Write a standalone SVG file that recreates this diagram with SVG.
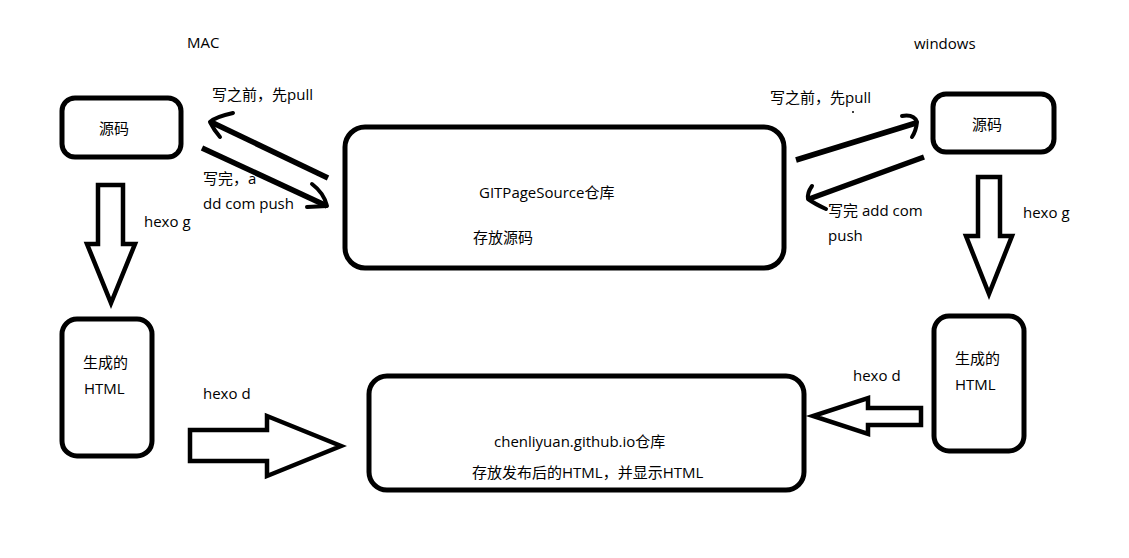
<svg xmlns="http://www.w3.org/2000/svg" width="1129" height="558" viewBox="0 0 1129 558">
<style>
.box{fill:#fff;stroke:#000;stroke-width:5}
.ha{fill:#fff;stroke:#000;stroke-width:4.5;stroke-linejoin:miter}
.ln{fill:none;stroke:#000;stroke-width:5.5;stroke-linecap:butt;stroke-linejoin:round}
.hd{fill:none;stroke:#000;stroke-width:4;stroke-linecap:round;stroke-linejoin:round}
text{font-family:"Open Sans","Noto Sans CJK SC",sans-serif;font-size:15px;fill:#000}
</style>
<rect width="1129" height="558" fill="#fff"/>
<text x="187" y="48">MAC</text>
<text x="914" y="49">windows</text>
<g id="mac-src">
<rect class="box" x="62" y="98" width="119" height="59" rx="13"/>
<text x="114" y="134" text-anchor="middle">源码</text>
</g>
<g id="mac-html">
<rect class="box" x="62" y="319" width="90" height="137" rx="15"/>
<text x="83" y="368">生成的</text>
<text x="84" y="394">HTML</text>
</g>
<g id="gitsource">
<rect class="box" x="345" y="127" width="439" height="141" rx="20"/>
<text x="479" y="198">GITPageSource仓库</text>
<text x="473" y="243">存放源码</text>
</g>
<g id="githubio">
<rect class="box" x="369" y="376" width="435" height="114" rx="18"/>
<text x="494" y="447">chenliyuan.github.io仓库</text>
<text x="472" y="478">存放发布后的HTML，并显示HTML</text>
</g>
<g id="win-src">
<rect class="box" x="933" y="94" width="121" height="58" rx="13"/>
<text x="987" y="130" text-anchor="middle">源码</text>
</g>
<g id="win-html">
<rect class="box" x="934" y="316" width="90" height="135" rx="15"/>
<text x="955" y="364">生成的</text>
<text x="955" y="390">HTML</text>
</g>
<g id="connectors">
<polygon class="ha" points="98,185 123,185 123,244 135,244 111,303 87,244 98,244"/>
<polygon class="ha" points="978,177 1000,177 1000,236 1012,236 989,294 966,236 978,236"/>
<polygon class="ha" points="190,430 267,430 267,416 341,446 267,476 267,461 190,461"/>
<polygon class="ha" points="921,408 868,408 868,398 813,416 868,434 868,425 921,425"/>
<line class="ln" x1="328" y1="178" x2="211" y2="122"/>
<path class="hd" d="M233,113 Q215,117 210,122 Q214,130 220,137"/>
<line class="ln" x1="202" y1="148" x2="327" y2="206"/>
<path class="hd" d="M312,184 Q324,193 327,206 L307,207"/>
<line class="ln" x1="796" y1="160" x2="916" y2="123"/>
<path class="hd" d="M902,116 Q914,114 917,122 Q916,131 912,137"/>
<line class="ln" x1="924" y1="157" x2="809" y2="199"/>
<path class="hd" d="M812,186 Q807,193 808,199 Q815,204 826,209"/>
<circle cx="853" cy="112" r="1" fill="#000"/>
</g>
<text x="212" y="100">写之前，先pull</text>
<text x="203" y="184">写完，a</text>
<text x="203" y="209">dd com push</text>
<text x="144" y="227">hexo g</text>
<text x="770" y="103">写之前，先pull</text>
<text x="828" y="216">写完 add com</text>
<text x="828" y="241">push</text>
<text x="1023" y="218">hexo g</text>
<text x="203" y="399">hexo d</text>
<text x="853" y="381">hexo d</text>
</svg>
